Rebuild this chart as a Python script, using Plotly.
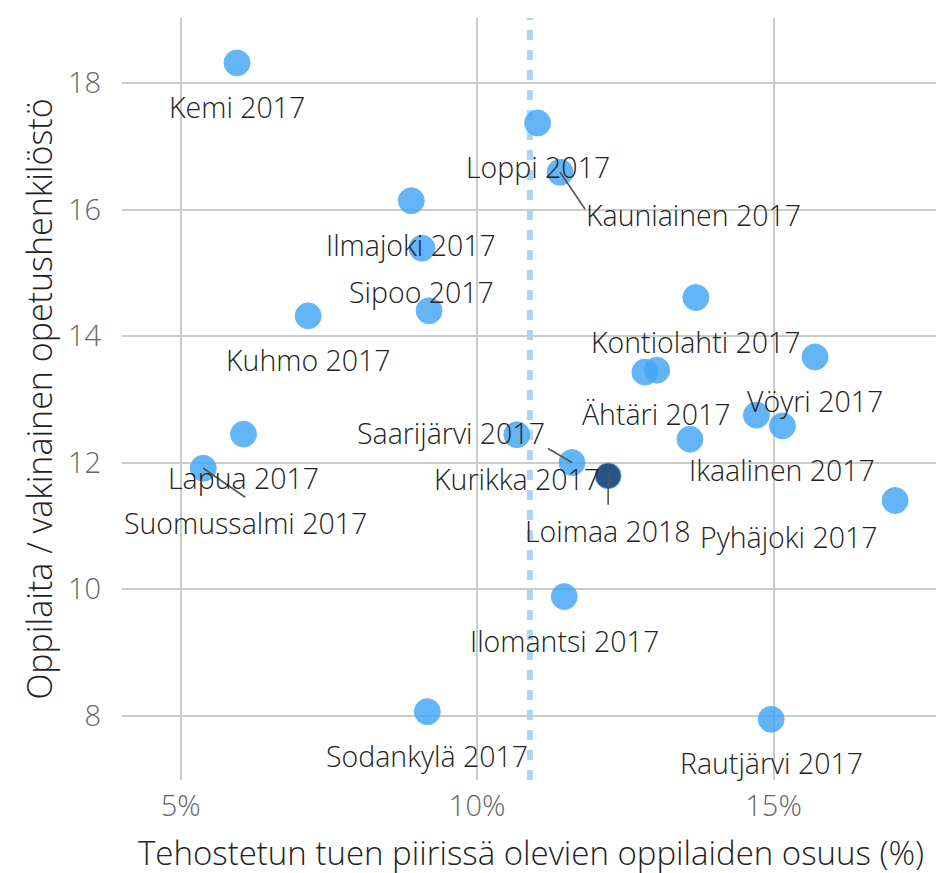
import plotly.graph_objects as go

# ---- data ----
names = ["Kemi 2017", "Loppi 2017", "Kauniainen 2017", "Ilmajoki 2017", "Sipoo 2017",
         "", "Kuhmo 2017", "Kontiolahti 2017", "Vöyri 2017", "", "Ähtäri 2017",
         "", "Ikaalinen 2017", "", "Lapua 2017", "Suomussalmi 2017", "Kurikka 2017",
         "Saarijärvi 2017", "Loimaa 2018", "Pyhäjoki 2017", "Ilomantsi 2017",
         "Sodankylä 2017", "Rautjärvi 2017"]
tuki_pct = [5.95, 11.02, 11.40, 8.89, 9.07, 9.19, 7.15, 13.69, 15.70, 12.83, 13.03,
            14.71, 15.15, 13.59, 6.06, 5.38, 10.67, 11.60, 12.21, 17.05, 11.47, 9.16, 14.96]
oppilaita = [18.32, 17.37, 16.59, 16.14, 15.39, 14.40, 14.32, 14.61, 13.67, 13.43, 13.46,
             12.75, 12.58, 12.37, 12.45, 11.91, 12.44, 12.00, 11.79, 11.40, 9.88, 8.06, 7.94]
highlight = "Loimaa 2018"
avg_pct = 10.89
x_ticks = [5, 10, 15]
x_ticktext = ["5%", "10%", "15%"]
y_ticks = [8, 10, 12, 14, 16, 18]
x_title = "Tehostetun tuen piirissä olevien oppilaiden osuus (%)"
y_title = "Oppilaita / vakinainen opetushenkilöstö"

# ---- label placement (pixel offsets, right/down positive) ----
label_offsets = {
    "Kauniainen 2017": (133, 43),
    "Suomussalmi 2017": (42, 55),
    "Saarijärvi 2017": (-121, -30),
    "Loimaa 2018": (0, 55),
    "Pyhäjoki 2017": (-106, 37),
}
default_offset = (0, 44)
leaders = {
    "Kauniainen 2017": (25, 37),
    "Suomussalmi 2017": (42, 29),
    "Saarijärvi 2017": (-24, -14),
    "Loimaa 2018": (0, 29),
}

FONT = "Open Sans"
light = "rgba(66,165,245,0.82)"
dark = "rgba(22,70,120,0.92)"

colors = [dark if n == highlight else light for n in names]

fig = go.Figure()
fig.add_trace(go.Scatter(
    x=tuki_pct, y=oppilaita, mode="markers",
    marker=dict(size=26, color=colors, line=dict(width=1, color="rgba(100,181,246,0.9)")),
    hoverinfo="text", text=names, showlegend=False,
))

shapes = [dict(type="line", xref="x", yref="paper", x0=avg_pct, x1=avg_pct, y0=0, y1=1,
               line=dict(color="#a9d6f8", width=6, dash="10px,10px"), layer="below")]

annotations = []
for n, xv, yv in zip(names, tuki_pct, oppilaita):
    if not n:
        continue
    dx, dy = label_offsets.get(n, default_offset)
    annotations.append(dict(x=xv, y=yv, xref="x", yref="y", text=n, showarrow=False,
                            xshift=dx, yshift=-dy,
                            font=dict(family=FONT, size=28.5, color="#222222", weight=300)))
    if n in leaders:
        lx, ly = leaders[n]
        shapes.append(dict(type="line", xref="x", yref="y", xsizemode="pixel", ysizemode="pixel",
                           xanchor=xv, yanchor=yv, x0=0, y0=0, x1=lx, y1=-ly,
                           line=dict(color="#555555", width=1.6), layer="above"))

annotations.append(dict(x=0.5, y=0, xref="paper", yref="paper", text=x_title, showarrow=False,
                        xanchor="center", yanchor="middle", xshift=2, yshift=-72, borderpad=0,
                        font=dict(family=FONT, size=33, color="#222222", weight=300)))

fig.update_layout(
    width=936, height=873,
    margin=dict(l=122, r=0, t=18, b=93, autoexpand=False),
    paper_bgcolor="white", plot_bgcolor="white",
    font=dict(family=FONT, color="#222222"),
    shapes=shapes, annotations=annotations,
    xaxis=dict(range=[4.01, 17.74], tickvals=x_ticks, ticktext=x_ticktext,
               showgrid=True, gridcolor="#c9cdc9", gridwidth=2, zeroline=False, showline=False,
               ticks="", tickfont=dict(size=29, color="#666666", family=FONT, weight=300),
               ticklabelstandoff=6, automargin=False),
    yaxis=dict(range=[6.98, 19.03], tickvals=y_ticks,
               showgrid=True, gridcolor="#c9cdc9", gridwidth=2, zeroline=False, showline=False,
               ticks="", tickfont=dict(size=29, color="#666666", family=FONT, weight=300),
               ticklabelstandoff=20, automargin=False,
               title=dict(text=y_title,
                          font=dict(size=34, color="#222222", family=FONT, weight=300), standoff=4)),
)

fig.write_html("out.html", config={"displayModeBar": False},
               post_script="document.body.style.margin='0';document.body.style.overflow='hidden';")
